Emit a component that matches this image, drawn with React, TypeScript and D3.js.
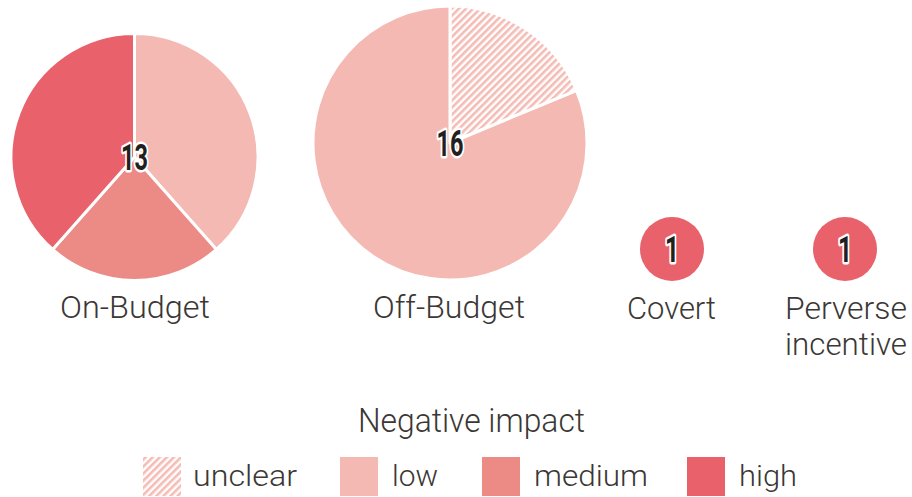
import React from "react";
import * as d3 from "d3";

const impacts = ["unclear", "low", "medium", "high"];
const impactColors = ["#f5bcb5", "#f4b9b2", "#ec8a86", "#e8616b"];
const groups = ["On-Budget", "Off-Budget", "Covert", "Perverse incentive"];
const onBudget = [0, 5, 3, 5];
const offBudget = [3, 13, 0, 0];
const covert = [0, 0, 0, 1];
const perverse = [0, 0, 0, 1];
const seriesValues = [onBudget, offBudget, covert, perverse];
const legendTitle = "Negative impact";

const W = 912;
const H = 497;
const centers: [number, number][] = [
  [134.5, 157],
  [450, 143],
  [672, 249],
  [845, 249],
];
const labelLayout = [
  { x: 135, lines: [{ y: 318, w: 150 }] },
  { x: 449, lines: [{ y: 318, w: 152 }] },
  { x: 671.5, lines: [{ y: 319, w: 89 }] },
  { x: 846, lines: [{ y: 319, w: 122 }, { y: 355, w: 122 }] },
];
const legendLayout = [
  { sx: 143, tx: 193, tw: 104 },
  { sx: 340, tx: 392, tw: 46 },
  { sx: 482, tx: 534, tw: 114 },
  { sx: 687, tx: 739, tw: 58 },
];

const textColor = "#3b3734";
const labelFont = "Roboto, 'Open Sans', sans-serif";

export default function App() {
  const totals = seriesValues.map((v) => d3.sum(v));
  const rScale = d3.scaleSqrt().domain([0, 16]).range([0, 137]);
  const pie = d3
    .pie<number>()
    .sort(null)
    .value((d) => d)
    .startAngle(0)
    .endAngle(2 * Math.PI);

  return (
    <svg
      width={W}
      height={H}
      style={{ position: "absolute", left: 0, top: 0, background: "#fff" }}
    >
      <defs>
        <pattern
          id="hatch"
          patternUnits="userSpaceOnUse"
          width={5}
          height={5}
          patternTransform="rotate(45)"
        >
          <rect width={5} height={5} fill="#fff" />
          <rect width={2.6} height={5} fill={impactColors[0]} />
        </pattern>
      </defs>
      {seriesValues.map((vals, gi) => {
        const total = totals[gi];
        const r = gi >= 2 ? 32 : rScale(total);
        const arc = d3.arc<d3.PieArcDatum<number>>().innerRadius(0).outerRadius(r);
        const arcs = pie(vals).filter((a) => a.value > 0);
        const [cx, cy] = centers[gi];
        const numLen = String(total).length === 1 ? 14 : 27;
        return (
          <g key={groups[gi]} transform={`translate(${cx},${cy})`}>
            {arcs.map((a) => (
              <path
                key={a.index}
                d={arc(a) || ""}
                fill={a.index === 0 ? "url(#hatch)" : impactColors[a.index]}
                stroke="#fff"
                strokeWidth={arcs.length > 1 ? 3 : 0}
                strokeLinejoin="round"
              />
            ))}
            <text
              x={gi >= 2 ? 0 : 0}
              y={gi >= 2 ? 13 : 13}
              textAnchor="middle"
              fontFamily="Roboto, 'DejaVu Sans', sans-serif"
              fontWeight={700}
              fontSize={36}
              fill="#231f1e"
              stroke="#fff"
              strokeWidth={5}
              strokeLinejoin="round"
              paintOrder="stroke"
              textLength={numLen}
              lengthAdjust="spacingAndGlyphs"
            >
              {total}
            </text>
          </g>
        );
      })}
      {groups.map((g, gi) => {
        const lay = labelLayout[gi];
        const parts = gi === 3 ? ["Perverse", "incentive"] : [g];
        return parts.map((p, li) => (
          <text
            key={g + li}
            x={lay.x}
            y={lay.lines[li].y}
            textAnchor="middle"
            fontFamily={labelFont}
            fontWeight={300}
            fontSize={32}
            fill={textColor}
            textLength={lay.lines[li].w}
            lengthAdjust="spacingAndGlyphs"
          >
            {p}
          </text>
        ));
      })}
      <text
        x={471.5}
        y={432}
        textAnchor="middle"
        fontFamily={labelFont}
        fontWeight={300}
        fontSize={33}
        fill={textColor}
        textLength={227}
        lengthAdjust="spacingAndGlyphs"
      >
        {legendTitle}
      </text>
      {impacts.map((imp, i) => {
        const l = legendLayout[i];
        return (
          <g key={imp}>
            <rect
              x={l.sx}
              y={457}
              width={38}
              height={39}
              fill={i === 0 ? "url(#hatch)" : impactColors[i]}
            />
            <text
              x={l.tx}
              y={486}
              fontFamily={labelFont}
              fontWeight={300}
              fontSize={30}
              fill={textColor}
              textLength={l.tw}
              lengthAdjust="spacingAndGlyphs"
            >
              {imp}
            </text>
          </g>
        );
      })}
    </svg>
  );
}
